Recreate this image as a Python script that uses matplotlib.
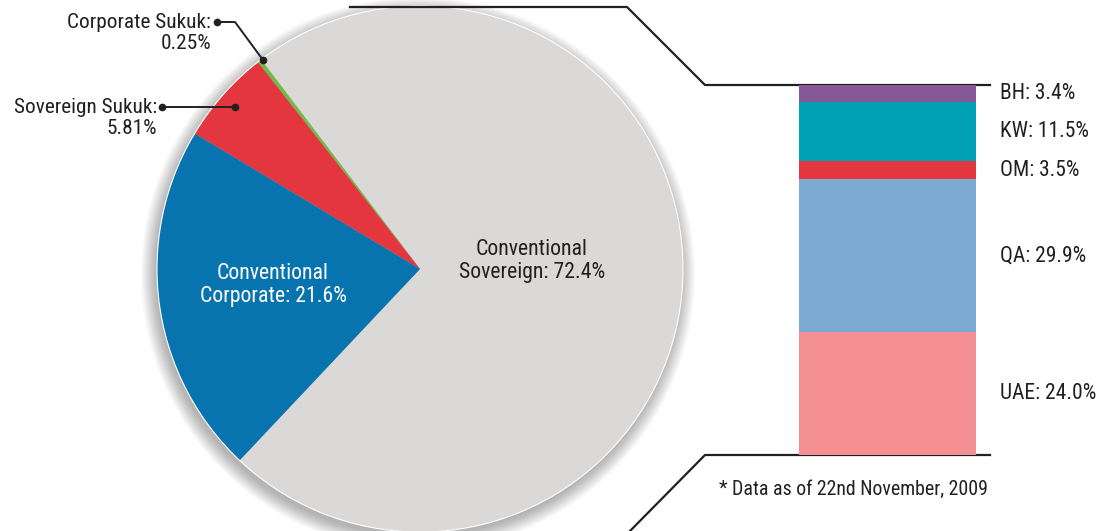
import matplotlib.pyplot as plt
from matplotlib.patches import Circle
from matplotlib.transforms import blended_transform_factory
import numpy as np

# issuance split (%), ordered as drawn counterclockwise from the lower-left edge
pie_labels = ["Conventional Sovereign", "Corporate Sukuk", "Sovereign Sukuk", "Conventional Corporate"]
pie_values = [72.4, 0.25, 5.81, 21.6]
pie_colors = ["#dad9d8", "#6dbe45", "#e3363f", "#0774b0"]

# country split of conventional sovereign (%), bottom to top
countries = ["UAE", "QA", "OM", "KW", "BH"]
country_values = [24.0, 29.9, 3.5, 11.5, 3.4]
country_colors = ["#f38f92", "#7daad3", "#e3363f", "#00a0b5", "#855797"]

FONT = ["Roboto Condensed", "Roboto", "DejaVu Sans"]
TXT = dict(family=FONT, fontstretch="condensed", color="#231f20")
W, H = 1101, 531

fig = plt.figure(figsize=(W / 100, H / 100), dpi=100)
ax = fig.add_axes([0, 0, 1, 1])

cx, cy, r = 420, 269, 263

# soft drop shadow round the pie, heavier towards the bottom
for k in range(16):
    ax.add_patch(Circle((cx - 2, cy + 5), r + 14 - k, color="black", alpha=0.018, lw=0, zorder=1))

ax.pie(pie_values, colors=pie_colors, center=(cx, cy), radius=r,
       startangle=133.3, counterclock=False,
       wedgeprops=dict(linewidth=0, zorder=2), frame=True)
ax.set_xlim(0, W)
ax.set_ylim(H, 0)
ax.set_aspect("equal")
ax.axis("off")
ax.add_patch(Circle((cx, cy), r, fill=False, ec="white", lw=0.8, zorder=3))

ax.text(532, 261, "Conventional\nSovereign: 72.4%", ha="center", va="center",
        fontsize=15.7, linespacing=1.15, zorder=4, **TXT)
ax.text(273, 285, "Conventional\nCorporate: 21.6%", ha="center", va="center",
        fontsize=15.7, linespacing=1.15, zorder=4, **{**TXT, "color": "white"})

# callouts for the small slices
ax.text(211, 33, "Corporate Sukuk:\n0.25%", ha="right", va="center", multialignment="right",
        fontsize=15.3, linespacing=1.15, **TXT)
ax.plot([217, 235, 263], [22, 22, 60], color="#231f20", lw=1.4, zorder=5)
ax.plot([217, 263], [22, 60], "o", color="#231f20", ms=4.5, zorder=5)

ax.text(157, 118, "Sovereign Sukuk:\n5.81%", ha="right", va="center", multialignment="right",
        fontsize=15.3, linespacing=1.15, **TXT)
ax.plot([162, 235], [107, 107], color="#231f20", lw=1.4, zorder=5)
ax.plot([162, 235], [107, 107], "o", color="#231f20", ms=4.5, zorder=5)

# bracket lines joining the pie to the breakdown bar
ax.plot([350, 627, 705, 990], [7, 7, 85, 85], color="#231f20", lw=1.6, zorder=5)
ax.plot([630, 705, 990], [531, 455, 455], color="#231f20", lw=1.6, zorder=5)

ax.text(719, 489, "* Data as of 22nd November, 2009", ha="left", va="center",
        fontsize=14.3, **TXT)

# stacked breakdown bar
bx0, bx1, by0, by1 = 799, 976, 85, 455
bax = fig.add_axes([bx0 / W, (H - by1) / H, (bx1 - bx0) / W, (by1 - by0) / H])
bottoms = np.concatenate([[0], np.cumsum(country_values)[:-1]])
bax.bar(0, country_values, bottom=bottoms, width=1.0, color=country_colors, linewidth=0)
bax.set_xlim(-0.5, 0.5)
bax.set_ylim(0, sum(country_values))
bax.axis("off")

tr = blended_transform_factory(bax.transAxes, bax.transData)
for name, v, b in zip(countries, country_values, bottoms):
    bax.text(1.0 + 24 / (bx1 - bx0), b + v / 2, f"{name}: {v:.1f}%", transform=tr,
             ha="left", va="center", fontsize=15.5, **TXT)

fig.savefig("out.png", dpi=100)
